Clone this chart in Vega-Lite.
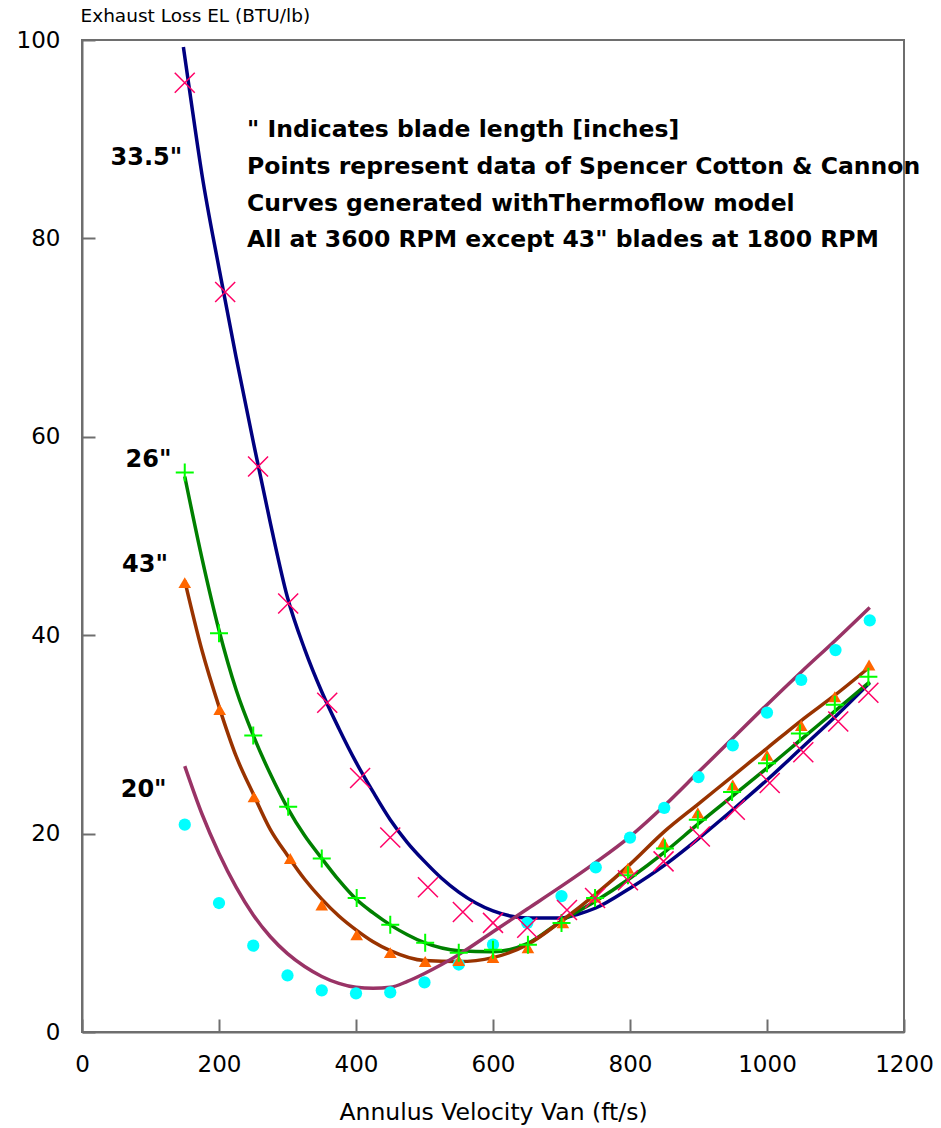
{
  "$schema": "https://vega.github.io/schema/vega-lite/v6.json",
  "width": 822,
  "height": 992,
  "autosize": {"type": "none"},
  "padding": {"left": 82, "top": 40, "right": 37, "bottom": 96},
  "background": "white",
  "config": {
    "view": {"stroke": "#6e6e6e", "strokeWidth": 2},
    "font": "DejaVu Sans",
    "axis": {
      "grid": false,
      "domainColor": "#6e6e6e",
      "domainWidth": 2,
      "tickColor": "#6e6e6e",
      "tickWidth": 2,
      "tickSize": -13,
      "labelFlush": false,
      "labelFont": "DejaVu Sans",
      "labelFontSize": 23,
      "labelColor": "#000000",
      "titleFont": "DejaVu Sans",
      "titleFontWeight": "normal",
      "titleColor": "#000000"
    }
  },
  "datasets": {
    "curves": [
      {"s": "33.5", "x": 148, "y": 99.3}, {"s": "33.5", "x": 160, "y": 93.5}, {"s": "33.5", "x": 175, "y": 86.5}, {"s": "33.5", "x": 200, "y": 77}, {"s": "33.5", "x": 225, "y": 68}, {"s": "33.5", "x": 250, "y": 59.5}, {"s": "33.5", "x": 275, "y": 51.3}, {"s": "33.5", "x": 300, "y": 43.8}, {"s": "33.5", "x": 325, "y": 38.6}, {"s": "33.5", "x": 350, "y": 34.3}, {"s": "33.5", "x": 375, "y": 30.6}, {"s": "33.5", "x": 400, "y": 27.2}, {"s": "33.5", "x": 425, "y": 24.2}, {"s": "33.5", "x": 450, "y": 21.4}, {"s": "33.5", "x": 475, "y": 19.1}, {"s": "33.5", "x": 500, "y": 17.2}, {"s": "33.5", "x": 525, "y": 15.5}, {"s": "33.5", "x": 550, "y": 14.1}, {"s": "33.5", "x": 575, "y": 13}, {"s": "33.5", "x": 600, "y": 12.2}, {"s": "33.5", "x": 625, "y": 11.7}, {"s": "33.5", "x": 650, "y": 11.5}, {"s": "33.5", "x": 700, "y": 11.5}, {"s": "33.5", "x": 725, "y": 11.9}, {"s": "33.5", "x": 750, "y": 12.5}, {"s": "33.5", "x": 800, "y": 14.5}, {"s": "33.5", "x": 850, "y": 16.8}, {"s": "33.5", "x": 900, "y": 19.5}, {"s": "33.5", "x": 950, "y": 22.4}, {"s": "33.5", "x": 1000, "y": 25.4}, {"s": "33.5", "x": 1050, "y": 28.6}, {"s": "33.5", "x": 1100, "y": 31.8}, {"s": "33.5", "x": 1150, "y": 35.2},
      {"s": "26", "x": 150, "y": 56}, {"s": "26", "x": 175, "y": 47.8}, {"s": "26", "x": 200, "y": 40.5}, {"s": "26", "x": 225, "y": 34.5}, {"s": "26", "x": 250, "y": 29.9}, {"s": "26", "x": 275, "y": 26}, {"s": "26", "x": 300, "y": 22.6}, {"s": "26", "x": 325, "y": 19.8}, {"s": "26", "x": 350, "y": 17.5}, {"s": "26", "x": 375, "y": 15.3}, {"s": "26", "x": 400, "y": 13.4}, {"s": "26", "x": 425, "y": 12}, {"s": "26", "x": 450, "y": 10.8}, {"s": "26", "x": 475, "y": 9.8}, {"s": "26", "x": 500, "y": 9}, {"s": "26", "x": 550, "y": 8.2}, {"s": "26", "x": 600, "y": 8.1}, {"s": "26", "x": 650, "y": 8.9}, {"s": "26", "x": 700, "y": 11.2}, {"s": "26", "x": 750, "y": 13.2}, {"s": "26", "x": 800, "y": 15.5}, {"s": "26", "x": 850, "y": 18.1}, {"s": "26", "x": 900, "y": 21}, {"s": "26", "x": 950, "y": 23.8}, {"s": "26", "x": 1000, "y": 26.6}, {"s": "26", "x": 1050, "y": 29.5}, {"s": "26", "x": 1100, "y": 32.4}, {"s": "26", "x": 1150, "y": 35.3},
      {"s": "43", "x": 150, "y": 45.5}, {"s": "43", "x": 175, "y": 38.5}, {"s": "43", "x": 200, "y": 32.8}, {"s": "43", "x": 225, "y": 27.8}, {"s": "43", "x": 250, "y": 24}, {"s": "43", "x": 275, "y": 20.4}, {"s": "43", "x": 300, "y": 17.8}, {"s": "43", "x": 325, "y": 15.4}, {"s": "43", "x": 350, "y": 13.4}, {"s": "43", "x": 375, "y": 11.7}, {"s": "43", "x": 400, "y": 10.3}, {"s": "43", "x": 425, "y": 9.1}, {"s": "43", "x": 450, "y": 8.2}, {"s": "43", "x": 500, "y": 7.2}, {"s": "43", "x": 550, "y": 7.1}, {"s": "43", "x": 600, "y": 7.5}, {"s": "43", "x": 650, "y": 8.8}, {"s": "43", "x": 700, "y": 11.2}, {"s": "43", "x": 750, "y": 13.9}, {"s": "43", "x": 800, "y": 16.9}, {"s": "43", "x": 850, "y": 20.2}, {"s": "43", "x": 900, "y": 23}, {"s": "43", "x": 950, "y": 25.8}, {"s": "43", "x": 1000, "y": 28.6}, {"s": "43", "x": 1050, "y": 31.4}, {"s": "43", "x": 1100, "y": 34}, {"s": "43", "x": 1150, "y": 36.8},
      {"s": "20", "x": 150, "y": 26.8}, {"s": "20", "x": 175, "y": 22}, {"s": "20", "x": 200, "y": 18}, {"s": "20", "x": 225, "y": 14.6}, {"s": "20", "x": 250, "y": 11.8}, {"s": "20", "x": 275, "y": 9.6}, {"s": "20", "x": 300, "y": 7.9}, {"s": "20", "x": 325, "y": 6.6}, {"s": "20", "x": 350, "y": 5.6}, {"s": "20", "x": 375, "y": 4.9}, {"s": "20", "x": 400, "y": 4.5}, {"s": "20", "x": 425, "y": 4.4}, {"s": "20", "x": 450, "y": 4.5}, {"s": "20", "x": 475, "y": 5.1}, {"s": "20", "x": 500, "y": 5.9}, {"s": "20", "x": 525, "y": 6.8}, {"s": "20", "x": 550, "y": 7.8}, {"s": "20", "x": 600, "y": 10.1}, {"s": "20", "x": 650, "y": 12.4}, {"s": "20", "x": 700, "y": 14.7}, {"s": "20", "x": 750, "y": 17.1}, {"s": "20", "x": 800, "y": 19.7}, {"s": "20", "x": 850, "y": 22.8}, {"s": "20", "x": 900, "y": 26.2}, {"s": "20", "x": 950, "y": 29.6}, {"s": "20", "x": 1000, "y": 33}, {"s": "20", "x": 1050, "y": 36.3}, {"s": "20", "x": 1100, "y": 39.5}, {"s": "20", "x": 1150, "y": 42.8}
    ],
    "points": [
      {"s": "33.5", "x": 150, "y": 95.7}, {"s": "33.5", "x": 209, "y": 74.6}, {"s": "33.5", "x": 257, "y": 57}, {"s": "33.5", "x": 301, "y": 43.2}, {"s": "33.5", "x": 358, "y": 33.2}, {"s": "33.5", "x": 406, "y": 25.6}, {"s": "33.5", "x": 450, "y": 19.6}, {"s": "33.5", "x": 505, "y": 14.6}, {"s": "33.5", "x": 556, "y": 12.1}, {"s": "33.5", "x": 600, "y": 11}, {"s": "33.5", "x": 650, "y": 10.5}, {"s": "33.5", "x": 708, "y": 12.3}, {"s": "33.5", "x": 749, "y": 13.5}, {"s": "33.5", "x": 797, "y": 15.3}, {"s": "33.5", "x": 849, "y": 17.2}, {"s": "33.5", "x": 902, "y": 19.7}, {"s": "33.5", "x": 953, "y": 22.4}, {"s": "33.5", "x": 1004, "y": 25.1}, {"s": "33.5", "x": 1053, "y": 28.2}, {"s": "33.5", "x": 1104, "y": 31.3}, {"s": "33.5", "x": 1148, "y": 34.2},
      {"s": "26", "x": 150, "y": 56.4}, {"s": "26", "x": 200, "y": 40.2}, {"s": "26", "x": 250, "y": 29.9}, {"s": "26", "x": 301, "y": 22.7}, {"s": "26", "x": 350, "y": 17.5}, {"s": "26", "x": 401, "y": 13.5}, {"s": "26", "x": 450, "y": 10.8}, {"s": "26", "x": 501, "y": 9}, {"s": "26", "x": 550, "y": 8}, {"s": "26", "x": 600, "y": 8.3}, {"s": "26", "x": 651, "y": 8.8}, {"s": "26", "x": 700, "y": 11}, {"s": "26", "x": 749, "y": 13.5}, {"s": "26", "x": 797, "y": 15.8}, {"s": "26", "x": 851, "y": 18.5}, {"s": "26", "x": 899, "y": 21.4}, {"s": "26", "x": 949, "y": 24.2}, {"s": "26", "x": 1000, "y": 27.1}, {"s": "26", "x": 1048, "y": 30.1}, {"s": "26", "x": 1099, "y": 33}, {"s": "26", "x": 1148, "y": 35.8},
      {"s": "43", "x": 150, "y": 45.3}, {"s": "43", "x": 201, "y": 32.5}, {"s": "43", "x": 251, "y": 23.7}, {"s": "43", "x": 304, "y": 17.5}, {"s": "43", "x": 350, "y": 12.8}, {"s": "43", "x": 401, "y": 9.8}, {"s": "43", "x": 450, "y": 8}, {"s": "43", "x": 501, "y": 7.1}, {"s": "43", "x": 550, "y": 7.2}, {"s": "43", "x": 600, "y": 7.5}, {"s": "43", "x": 651, "y": 8.5}, {"s": "43", "x": 702, "y": 11}, {"s": "43", "x": 749, "y": 13.6}, {"s": "43", "x": 797, "y": 16.5}, {"s": "43", "x": 849, "y": 19.1}, {"s": "43", "x": 899, "y": 22.1}, {"s": "43", "x": 950, "y": 24.9}, {"s": "43", "x": 1000, "y": 27.9}, {"s": "43", "x": 1050, "y": 30.9}, {"s": "43", "x": 1099, "y": 33.8}, {"s": "43", "x": 1149, "y": 37},
      {"s": "20", "x": 150, "y": 20.9}, {"s": "20", "x": 200, "y": 13}, {"s": "20", "x": 250, "y": 8.7}, {"s": "20", "x": 300, "y": 5.7}, {"s": "20", "x": 350, "y": 4.2}, {"s": "20", "x": 400, "y": 3.9}, {"s": "20", "x": 450, "y": 4}, {"s": "20", "x": 500, "y": 5}, {"s": "20", "x": 550, "y": 6.8}, {"s": "20", "x": 600, "y": 8.8}, {"s": "20", "x": 650, "y": 11}, {"s": "20", "x": 700, "y": 13.7}, {"s": "20", "x": 750, "y": 16.6}, {"s": "20", "x": 800, "y": 19.6}, {"s": "20", "x": 850, "y": 22.6}, {"s": "20", "x": 900, "y": 25.7}, {"s": "20", "x": 950, "y": 28.9}, {"s": "20", "x": 1000, "y": 32.2}, {"s": "20", "x": 1050, "y": 35.5}, {"s": "20", "x": 1100, "y": 38.5}, {"s": "20", "x": 1150, "y": 41.5}
    ],
    "notes": [
      {"x": 241, "y": 90.9, "t": "\" Indicates blade length [inches]"},
      {"x": 241, "y": 87.2, "t": "Points represent data of Spencer Cotton & Cannon"},
      {"x": 241, "y": 83.5, "t": "Curves generated withThermoflow model"},
      {"x": 241, "y": 79.8, "t": "All at 3600 RPM except 43\" blades at 1800 RPM"}
    ],
    "labels": [
      {"x": 94, "y": 88.1, "t": "33.5\""},
      {"x": 97, "y": 57.7, "t": "26\""},
      {"x": 92, "y": 47.1, "t": "43\""},
      {"x": 90, "y": 24.4, "t": "20\""}
    ]
  },
  "encoding": {
    "x": {
      "field": "x",
      "type": "quantitative",
      "scale": {"domain": [0, 1200], "nice": false, "zero": false},
      "axis": {
        "values": [0, 200, 400, 600, 800, 1000, 1200],
        "format": "d",
        "title": "Annulus Velocity Van (ft/s)",
        "titleFontSize": 23.5,
        "titleBaseline": "middle",
        "titleY": 80,
        "labelPadding": 34
      }
    },
    "y": {
      "field": "y",
      "type": "quantitative",
      "scale": {"domain": [0, 100], "nice": false, "zero": false},
      "axis": {
        "values": [0, 20, 40, 60, 80, 100],
        "format": "d",
        "title": "Exhaust Loss EL (BTU/lb)",
        "titleFontSize": 18.5,
        "titleAngle": 0,
        "titleAlign": "left",
        "titleBaseline": "middle",
        "titleX": -2,
        "titleY": -25,
        "labelPadding": 35
      }
    }
  },
  "layer": [
    {
      "data": {"name": "curves"},
      "mark": {"type": "line", "interpolate": "monotone", "strokeWidth": 3.5},
      "encoding": {
        "color": {
          "field": "s",
          "type": "nominal",
          "scale": {"domain": ["20", "43", "26", "33.5"], "range": ["#993366", "#993300", "#008000", "#000080"]},
          "legend": null
        },
        "order": {"field": "x", "type": "quantitative"}
      }
    },
    {
      "data": {"name": "points"},
      "transform": [{"filter": "datum.s == '20'"}],
      "mark": {"type": "point", "shape": "circle", "filled": true, "color": "#00ffff", "size": 150, "opacity": 1}
    },
    {
      "data": {"name": "points"},
      "transform": [{"filter": "datum.s == '43'"}],
      "mark": {"type": "point", "shape": "triangle-up", "filled": true, "color": "#ff6600", "size": 160, "opacity": 1}
    },
    {
      "data": {"name": "points"},
      "transform": [{"filter": "datum.s == '26'"}],
      "mark": {"type": "point", "shape": "M-1,0L1,0M0,-1L0,1", "filled": false, "color": "#00ff00", "strokeWidth": 2, "size": 324, "opacity": 1}
    },
    {
      "data": {"name": "points"},
      "transform": [{"filter": "datum.s == '33.5'"}],
      "mark": {"type": "point", "shape": "M-1,-1L1,1M-1,1L1,-1", "filled": false, "color": "#ff0066", "strokeWidth": 1.5, "size": 400, "opacity": 1}
    },
    {
      "data": {"name": "notes"},
      "mark": {"type": "text", "align": "left", "baseline": "middle", "font": "DejaVu Sans", "fontWeight": "bold", "fontSize": 23.5, "color": "#000000"},
      "encoding": {"text": {"field": "t", "type": "nominal"}}
    },
    {
      "data": {"name": "labels"},
      "mark": {"type": "text", "align": "center", "baseline": "middle", "font": "DejaVu Sans", "fontWeight": "bold", "fontSize": 24, "color": "#000000"},
      "encoding": {"text": {"field": "t", "type": "nominal"}}
    }
  ]
}
